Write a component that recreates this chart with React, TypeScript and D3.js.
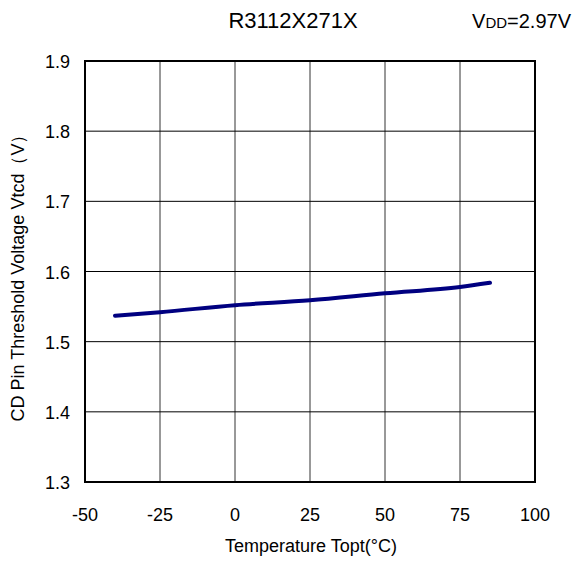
import React from "react";
import * as d3 from "d3";

const temps = [-40, -25, 0, 25, 50, 75, 85];
const vtcd = [1.537, 1.542, 1.552, 1.559, 1.569, 1.578, 1.584];
const xTicks = [-50, -25, 0, 25, 50, 75, 100];
const yTicks = [1.3, 1.4, 1.5, 1.6, 1.7, 1.8, 1.9];

const W = 578;
const H = 563;
const L = 85, R = 535, T = 61, B = 482;
const FONT = "'Liberation Sans', Arial, sans-serif";

export default function App() {
  const x = d3.scaleLinear().domain([-50, 100]).range([L, R]);
  const y = d3.scaleLinear().domain([1.3, 1.9]).range([B, T]);
  const pts = temps.map((t, i) => [t, vtcd[i]] as [number, number]);
  const line = d3
    .line<[number, number]>()
    .x((d) => x(d[0]))
    .y((d) => y(d[1]))
    .curve(d3.curveMonotoneX);

  return (
    <svg
      width={W}
      height={H}
      style={{ position: "absolute", left: 0, top: 0 }}
      fontFamily={FONT}
    >
      <rect width={W} height={H} fill="#fff" />
      {xTicks.slice(1, -1).map((t) => (
        <line key={"gx" + t} x1={x(t)} x2={x(t)} y1={T} y2={B} stroke="#333" strokeWidth={1} />
      ))}
      {yTicks.slice(1, -1).map((t) => (
        <line key={"gy" + t} x1={L} x2={R} y1={y(t)} y2={y(t)} stroke="#000" strokeWidth={1} />
      ))}
      <rect x={L} y={T} width={R - L} height={B - T} fill="none" stroke="#000" strokeWidth={2} />
      <path d={line(pts) || ""} fill="none" stroke="#000080" strokeWidth={4} strokeLinecap="round" />
      {xTicks.map((t) => (
        <text key={"tx" + t} x={x(t)} y={521} textAnchor="middle" fontSize={18} fill="#000">
          {t}
        </text>
      ))}
      {yTicks.map((t) => (
        <text key={"ty" + t} x={70} y={y(t) + 7} textAnchor="end" fontSize={18} fill="#000">
          {t.toFixed(1)}
        </text>
      ))}
      <text x={311} y={552} textAnchor="middle" fontSize={18} fill="#000">
        Temperature Topt(°C)
      </text>
      <text
        transform={`translate(24,${(T + B) / 2 + 2}) rotate(-90)`}
        textAnchor="middle"
        fontSize={18}
        fill="#000"
      >
        CD Pin Threshold Voltage Vtcd（V）
      </text>
      <text x={293} y={28} textAnchor="middle" fontSize={22} fill="#000">
        R3112X271X
      </text>
      <text x={571} y={28} textAnchor="end" fontSize={20} fill="#000">
        V<tspan fontSize={15}>DD</tspan>=2.97V
      </text>
    </svg>
  );
}
